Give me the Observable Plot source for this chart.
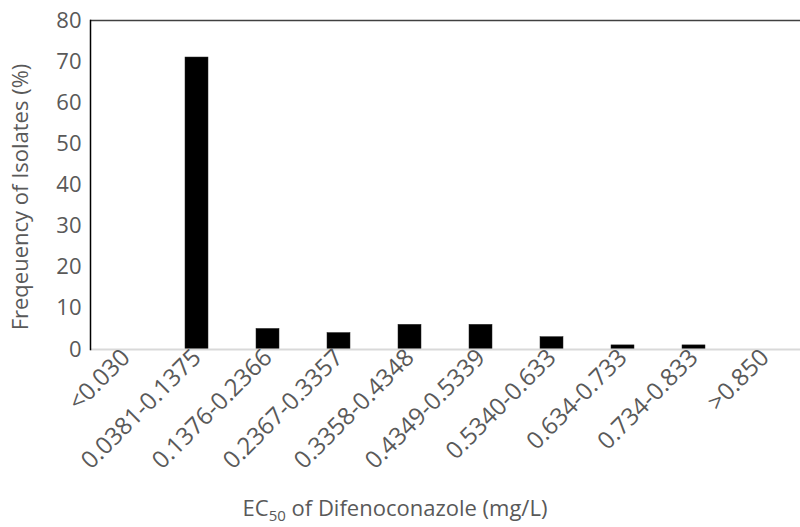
<!DOCTYPE html>
<html><head><meta charset="utf-8">
<script src="https://cdn.jsdelivr.net/npm/d3@7"></script>
<script src="https://cdn.jsdelivr.net/npm/@observablehq/plot@0.6"></script>
<style>body{margin:0;background:#fff}</style>
</head><body><div id="chart"></div>
<script>
const categories = ["<0.030","0.0381-0.1375","0.1376-0.2366","0.2367-0.3357","0.3358-0.4348","0.4349-0.5339","0.5340-0.633","0.634-0.733","0.734-0.833",">0.850"];
const frequencies = [0,71,5,4,6,6,3,1,1,0];
const yTicks = [0,10,20,30,40,50,60,70,80];
const yTitle = "Freqeuency of Isolates (%)";
const xTitleParts = ["EC", "50", " of Difenoconazole (mg/L)"];

const data = categories.map((c, i) => ({range: c, freq: frequencies[i]}));

const chart = Plot.plot({
  width: 800, height: 527,
  marginTop: 20, marginLeft: 90, marginRight: 0, marginBottom: 178,
  style: {fontFamily: "'Open Sans', sans-serif", fontSize: "18px", color: "#595959", background: "white"},
  x: {domain: categories, paddingInner: 0.676, paddingOuter: 0.338, label: null},
  y: {domain: [0, 80], label: null},
  marks: [
    Plot.barY(data, {x: "range", y: "freq", fill: "black", stroke: "#222", strokeWidth: 0.5}),
    Plot.ruleY([0], {stroke: "#d9d9d9", strokeWidth: 2}),
    Plot.ruleY([80], {stroke: "#404040", strokeWidth: 1.5}),
    Plot.frame({anchor: "left", stroke: "black", strokeWidth: 1.5}),
    Plot.axisY({ticks: yTicks, tickSize: 0, tickPadding: 9, fontSize: 22, label: null}),
    Plot.axisX({tickSize: 0, tickRotate: -45, tickPadding: 4, fontSize: 24, label: null})
  ]
});
document.getElementById("chart").appendChild(chart);

const svg = d3.select(chart);
svg.append("text")
  .attr("transform", "translate(28,197) rotate(-90)")
  .attr("text-anchor", "middle")
  .attr("fill", "#595959")
  .style("font-family", "'Open Sans', sans-serif")
  .style("font-size", "22px")
  .text(yTitle);

const t = svg.append("text")
  .attr("x", 395).attr("y", 516)
  .attr("text-anchor", "middle")
  .attr("fill", "#595959")
  .style("font-family", "'Open Sans', sans-serif")
  .style("font-size", "22px");
t.append("tspan").text(xTitleParts[0]);
t.append("tspan").attr("font-size", "15px").attr("dy", "5").text(xTitleParts[1]);
t.append("tspan").attr("dy", "-5").text(xTitleParts[2]);
</script></body></html>
